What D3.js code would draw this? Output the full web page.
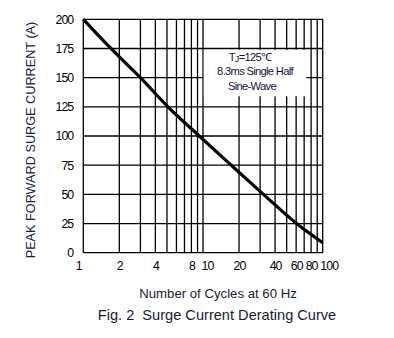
<!DOCTYPE html>
<html>
<head>
<meta charset="utf-8">
<script src="https://cdn.jsdelivr.net/npm/d3@7"></script>
<style>
  html, body { margin: 0; padding: 0; background: #fff; }
  svg { display: block; font-family: "Liberation Sans", Arial, sans-serif; }
  text { white-space: pre; }
</style>
</head>
<body>
<svg id="chart" width="394" height="338"></svg>
<script>
// Surge current derating curve: peak forward surge current vs. number of cycles
const cycles  = [1, 1.7, 3, 5.1, 9.3, 17.2, 32, 60.5, 100];
const current = [200, 175, 150, 125, 100, 75, 50, 25, 8.5];

const yTicks = [0, 25, 50, 75, 100, 125, 150, 175, 200];
const xGrid  = [1, 2, 3, 4, 5, 6, 7, 8, 9, 10, 20, 30, 40, 50, 60, 70, 80, 90, 100];
const xTickLabels = [1, 2, 4, 8, 10, 20, 40, 60, 80, 100];

const noteLines = ["T\u2C7C=125\u2103", "8.3ms Single Half", "Sine-Wave"];

const svg = d3.select("#chart");
const plotLeft = 83.3, plotTop = 19.3, plotRight = 322.7, plotBottom = 252.7;

const x = d3.scaleLog().domain([1, 100]).range([plotLeft, plotRight]);
const y = d3.scaleLinear().domain([0, 200]).range([plotBottom, plotTop]);

// grid
const grid = svg.append("g").attr("stroke", "#000").attr("stroke-width", 1.3);
grid.selectAll("line.v").data(xGrid).join("line")
  .attr("class", "v")
  .attr("x1", d => x(d)).attr("x2", d => x(d))
  .attr("y1", plotTop).attr("y2", plotBottom);
grid.selectAll("line.h").data(yTicks).join("line")
  .attr("class", "h")
  .attr("x1", plotLeft).attr("x2", plotRight)
  .attr("y1", d => y(d)).attr("y2", d => y(d));

// annotation box with white background over the grid
const boxX0 = x(10), boxX1 = x(73), boxY0 = y(173.8), boxY1 = y(134);
svg.append("rect")
  .attr("x", boxX0 + 0.8).attr("y", boxY0)
  .attr("width", boxX1 - boxX0 - 0.8).attr("height", boxY1 - boxY0)
  .attr("fill", "#fff");
const note = svg.append("text")
  .attr("font-size", 11.2).attr("fill", "#14143a")
  .attr("letter-spacing", -0.7).attr("text-anchor", "middle");
const noteX = [250, 255, 252];
noteLines.forEach((t, i) => {
  const tx = note.append("tspan").attr("x", noteX[i]).attr("y", y(168) + 4 + i * 14.5);
  if (i === 0) {
    tx.text("T");
    tx.append("tspan").attr("font-size", 9).attr("dy", 1).text("J");
    tx.append("tspan").attr("dy", -1).text("=125\u2103");
  } else {
    tx.text(t);
  }
});

// curve
const line = d3.line()
  .x((d, i) => x(cycles[i]))
  .y(d => y(d))
  .curve(d3.curveMonotoneX);
svg.append("path")
  .datum(current)
  .attr("d", line)
  .attr("fill", "none")
  .attr("stroke", "#000")
  .attr("stroke-width", 3.2)
  .attr("stroke-linecap", "butt");

// y axis labels
const yAxis = d3.axisLeft(y).tickValues(yTicks).tickSize(0).tickPadding(10);
const gy = svg.append("g").attr("transform", `translate(${plotLeft},0)`).call(yAxis);
gy.select(".domain").remove();
gy.selectAll("text")
  .attr("font-size", 12.3).attr("letter-spacing", -0.9)
  .attr("font-family", "Liberation Sans, Arial, sans-serif")
  .attr("fill", "#000");

// x axis labels (a few nudged apart where they crowd)
const nudge = d => d === 1 ? -5 : d === 10 ? 4 : d === 100 ? 6 : 0;
const xAxis = d3.axisBottom(x).tickValues(xTickLabels).tickFormat(d3.format("d")).tickSize(0).tickPadding(9);
const gx = svg.append("g").attr("transform", `translate(0,${plotBottom})`).call(xAxis);
gx.select(".domain").remove();
gx.selectAll("text")
  .attr("font-size", 12.3).attr("letter-spacing", -0.9)
  .attr("font-family", "Liberation Sans, Arial, sans-serif")
  .attr("fill", "#000")
  .attr("dx", d => nudge(d));

// axis titles
svg.append("text")
  .attr("transform", `translate(34.5,${(plotTop + plotBottom) / 2 + 4}) rotate(-90)`)
  .attr("text-anchor", "middle")
  .attr("font-size", 12.7).attr("fill", "#1a1a48")
  .text("PEAK FORWARD SURGE CURRENT (A)");

svg.append("text")
  .attr("x", 218).attr("y", 298)
  .attr("text-anchor", "middle")
  .attr("font-size", 13.2).attr("fill", "#1a1a30")
  .text("Number of Cycles at 60 Hz");

svg.append("text")
  .attr("x", 217).attr("y", 320)
  .attr("text-anchor", "middle")
  .attr("font-size", 14.6).attr("fill", "#1a1a30")
  .text("Fig. 2  Surge Current Derating Curve");
</script>
</body>
</html>
